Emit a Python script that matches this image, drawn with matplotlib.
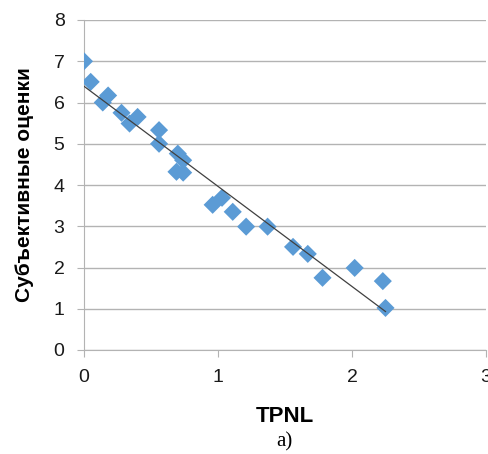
#!/usr/bin/env python3
"""Scatter of subjective scores vs TPNL with linear trend line."""

import matplotlib
matplotlib.use('Agg')
import matplotlib.pyplot as plt
import numpy as np

# Data
tpnl = [0.00, 0.05, 0.14, 0.18, 0.28, 0.34, 0.40, 0.56, 0.56, 0.70,
        0.74, 0.69, 0.74, 0.96, 1.03, 1.11, 1.21, 1.37, 1.56, 1.67,
        1.78, 2.02, 2.23, 2.25]
scores = [7.00, 6.50, 6.00, 6.17, 5.75, 5.49, 5.65, 5.33, 5.00, 4.76,
          4.60, 4.32, 4.30, 3.52, 3.69, 3.35, 2.99, 2.99, 2.50, 2.33,
          1.75, 1.99, 1.67, 1.02]
xticks = [0, 1, 2, 3]
yticks = [0, 1, 2, 3, 4, 5, 6, 7, 8]

plt.rcParams['font.family'] = ['Liberation Sans', 'DejaVu Sans']

fig = plt.figure(figsize=(4.89, 4.54), dpi=100)
ax = fig.add_axes([84 / 489, 104 / 454, 402 / 489, 330 / 454])

ax.scatter(tpnl, scores, marker='D', s=85, color='#5B9BD5',
           edgecolors='none', zorder=3)

# Linear trend line
k, b = np.polyfit(tpnl, scores, 1)
xs = np.array([min(tpnl), max(tpnl)])
ax.plot(xs, k * xs + b, color='#404040', lw=0.9, zorder=4)

ax.set_xlim(0, 3)
ax.set_ylim(0, 8)
ax.set_xticks(xticks)
ax.set_yticks(yticks)
ax.yaxis.grid(True, color='#B3B3B3', lw=1)
ax.set_axisbelow(True)
for side in ['top', 'right']:
    ax.spines[side].set_visible(False)
for side in ['left', 'bottom']:
    ax.spines[side].set_color('#B3B3B3')
ax.tick_params(axis='both', colors='#B3B3B3', labelcolor='#1a1a1a',
               labelsize=14, length=5, direction='out')
ax.tick_params(axis='x', pad=9)
ax.tick_params(axis='y', pad=9)

ax.set_xlabel('TPNL', fontsize=16, fontweight='bold', labelpad=14)
ax.set_ylabel('Субъективные оценки', fontsize=15, fontweight='bold',
              labelpad=14)
fig.text(284 / 489, 1 - 442 / 454, 'а)', ha='center', va='center',
         fontsize=15, family=['Liberation Serif', 'DejaVu Serif'])

plt.savefig('out.png', dpi=100)
